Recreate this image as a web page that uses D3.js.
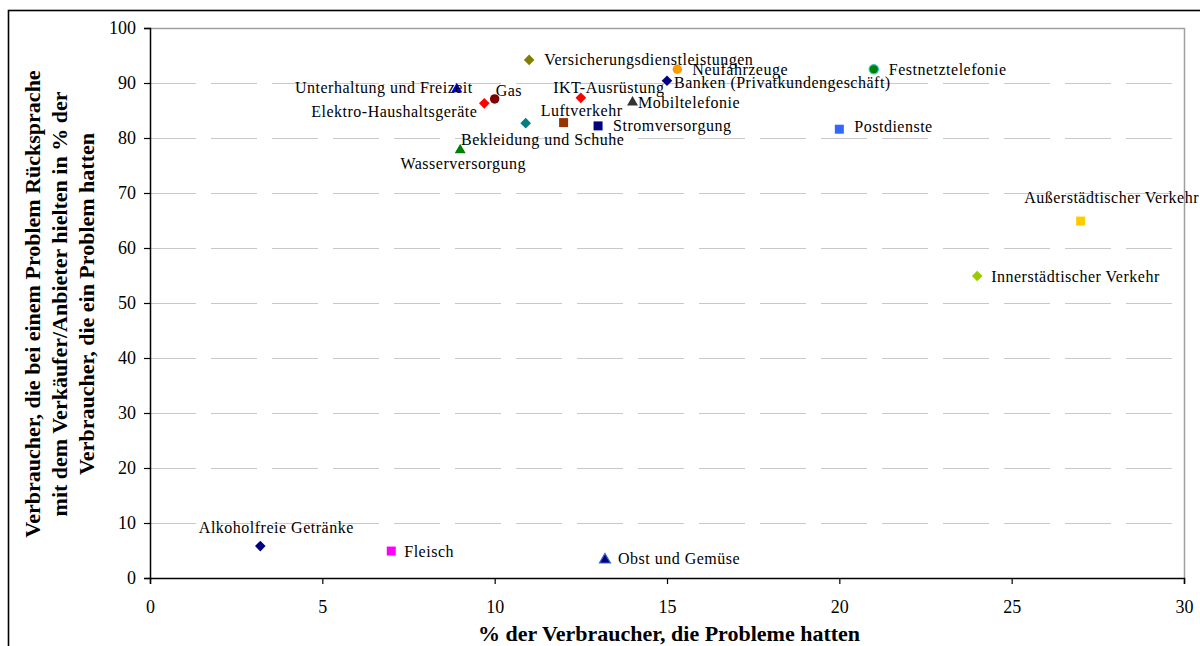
<!DOCTYPE html>
<html>
<head>
<meta charset="utf-8">
<script src="https://cdn.jsdelivr.net/npm/d3@7/dist/d3.min.js"></script>
<style>
  html, body { margin: 0; padding: 0; background: #fff; }
  svg { display: block; }
  text { font-family: "Liberation Serif", "Times New Roman", serif; fill: #000; }
</style>
</head>
<body>
<svg id="chart" width="1200" height="646"></svg>
<script>
// ---------------- DATA ----------------
const categories = [
  "Versicherungsdienstleistungen", "Unterhaltung und Freizeit", "Elektro-Haushaltsgeräte", "Gas",
  "IKT-Ausrüstung", "Mobiltelefonie", "Bekleidung und Schuhe", "Luftverkehr", "Stromversorgung",
  "Wasserversorgung", "Neufahrzeuge", "Banken (Privatkundengeschäft)", "Festnetztelefonie",
  "Postdienste", "Außerstädtischer Verkehr", "Innerstädtischer Verkehr", "Alkoholfreie Getränke",
  "Fleisch", "Obst und Gemüse"
];
const xValues = [11.0, 8.9, 9.7, 10.0, 12.5, 14.0, 10.9, 12.0, 13.0, 9.0, 15.3, 15.0, 21.0, 20.0, 27.0, 24.0, 3.2, 7.0, 13.2];
const yValues = [94.2, 88.9, 86.3, 87.1, 87.3, 86.5, 82.7, 82.8, 82.2, 77.8, 92.5, 90.4, 92.5, 81.6, 64.9, 54.9, 5.8, 4.9, 3.3];
const xTicks = [0, 5, 10, 15, 20, 25, 30];
const yTicks = [0, 10, 20, 30, 40, 50, 60, 70, 80, 90, 100];
const xTitle = "% der Verbraucher, die Probleme hatten";
const yTitleLines = [
  "Verbraucher, die bei einem Problem Rücksprache",
  "mit dem Verkäufer/Anbieter hielten in % der",
  "Verbraucher, die ein Problem hatten"
];

// ---------------- STYLES (marker shape / colour, label placement) ----------------
const markerShapes = ["diamond","triangle","diamond","circle","diamond","triangle","diamond","square","square",
  "triangle","circle","diamond","circle","square","square","diamond","diamond","square","triangle"];
const markerFills = ["#808000","#0000FF","#FF0000","#800000","#FF0000","#333333","#008080","#993300","#000080",
  "#008000","#FF9900","#000080","#008000","#3366FF","#FFCC00","#99CC00","#000080","#FF00FF","#000080"];
const markerStrokes = [null,null,null,null,null,null,null,null,null,
  null,null,null,"#33CCCC",null,null,null,null,null,"#3366CC"];
// label offsets relative to the marker: [dx, dy, anchor]
const labelPlacement = [
  [15, 0, "start"], [16, -1.5, "end"], [-7, 8, "end"], [1, -8.5, "start"],
  [28, -10, "middle"], [5.5, 0, "start"], [17, 16, "middle"], [18, -12.5, "middle"], [15, 0, "start"],
  [3, 13, "middle"], [15, 0, "start"], [7, 1.5, "start"], [15, 0.5, "start"],
  [15, -2.5, "start"], [31, -24, "middle"], [14, 0, "start"], [16, -19, "middle"],
  [13, 0, "start"], [13, -1, "start"]
];

// ---------------- LAYOUT ----------------
const svg = d3.select("#chart");
const plot = { left: 150, right: 1184, top: 28, bottom: 578 };
const x = d3.scaleLinear().domain([0, 30]).range([plot.left, plot.right]);
const y = d3.scaleLinear().domain([0, 100]).range([plot.bottom, plot.top]);

// outer frame
svg.append("rect").attr("x", 8.5).attr("y", 10.5).attr("width", 1220).attr("height", 660)
  .attr("fill", "none").attr("stroke", "#000").attr("stroke-width", 1.6);

// gridlines (dashed)
svg.append("g").selectAll("line").data(yTicks.filter(d => d > 0 && d < 100)).join("line")
  .attr("x1", plot.left).attr("x2", plot.right)
  .attr("y1", d => Math.round(y(d)) + 0.5).attr("y2", d => Math.round(y(d)) + 0.5)
  .attr("stroke", "#c8c8c8").attr("stroke-width", 1).attr("stroke-dasharray", "46,15");

// plot border top & right (grey)
svg.append("path")
  .attr("d", `M${plot.left},${plot.top + 0.5}H${plot.right + 0.5}V${plot.bottom}`)
  .attr("fill", "none").attr("stroke", "#a0a0a0").attr("stroke-width", 1.5);

// axes
const yAxis = svg.append("g").attr("transform", `translate(${plot.left},0)`)
  .call(d3.axisLeft(y).tickValues(yTicks).tickSize(6).tickPadding(8).tickFormat(d3.format("d")));
const xAxis = svg.append("g").attr("transform", `translate(0,${plot.bottom})`)
  .call(d3.axisBottom(x).tickValues(xTicks).tickSize(6).tickPadding(16).tickFormat(d3.format("d")));
[xAxis, yAxis].forEach(g => {
  g.select(".domain").attr("stroke", "#000").attr("stroke-width", 1.5);
  g.selectAll(".tick line").attr("stroke", "#000").attr("stroke-width", 1.2);
  g.selectAll(".tick text").attr("font-family", "Liberation Serif, serif").attr("font-size", 18).attr("fill", "#000");
});

// axis titles
svg.append("text").attr("x", (plot.left + plot.right) / 2 + 2).attr("y", 633)
  .attr("text-anchor", "middle").attr("dominant-baseline", "central")
  .attr("font-weight", "bold").attr("font-size", 22).text(xTitle);
const yTitle = svg.append("g").attr("transform", "translate(0,304) rotate(-90)");
yTitleLines.forEach((line, i) => {
  yTitle.append("text").attr("x", 0).attr("y", 32 + i * 27)
    .attr("text-anchor", "middle").attr("dominant-baseline", "central")
    .attr("font-weight", "bold").attr("font-size", 22).text(line);
});

// markers
const symbolOf = {
  diamond: d3.symbol().type(d3.symbolSquare).size(56),
  square: d3.symbol().type(d3.symbolSquare).size(81),
  triangle: d3.symbol().type(d3.symbolTriangle).size(52),
  circle: d3.symbol().type(d3.symbolCircle).size(70)
};
const idx = d3.range(categories.length);
const pts = svg.append("g");
pts.selectAll("path").data(idx).join("path")
  .attr("d", i => symbolOf[markerShapes[i]]())
  .attr("transform", i => `translate(${x(xValues[i])},${y(yValues[i])})` + (markerShapes[i] === "diamond" ? " rotate(45)" : ""))
  .attr("fill", i => markerFills[i])
  .attr("stroke", i => markerStrokes[i] || "none")
  .attr("stroke-width", 1.2);

// labels
svg.append("g").selectAll("text").data(idx).join("text")
  .attr("x", i => x(xValues[i]) + labelPlacement[i][0])
  .attr("y", i => y(yValues[i]) + labelPlacement[i][1])
  .attr("text-anchor", i => labelPlacement[i][2])
  .attr("dominant-baseline", "central")
  .attr("font-size", 16)
  .attr("letter-spacing", 0.5)
  .text(i => categories[i]);
</script>
</body>
</html>
